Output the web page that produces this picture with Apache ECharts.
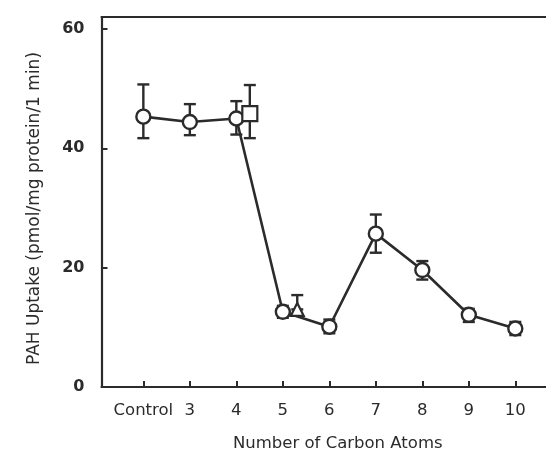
<!DOCTYPE html>
<html>
<head>
<meta charset="utf-8">
<script src="https://cdn.jsdelivr.net/npm/echarts@6/dist/echarts.min.js"></script>
<style>
  html, body { margin: 0; padding: 0; background: #fff; }
  #chart { width: 546px; height: 453px; }
</style>
</head>
<body>
<div id="chart"></div>
<script>
// Category labels along the carbon-chain axis
const categories = ['Control', '3', '4', '5', '6', '7', '8', '9', '10'];
const yTicks = [0, 20, 40, 60];

// Main series: mean uptake with lower / upper error limits
const uptake = [45.3, 44.4, 45.0, 12.6, 10.1, 25.7, 19.6, 12.1, 9.8];
const uptakeLow = [41.7, 42.2, 42.3, 11.6, 9.0, 22.5, 18.0, 10.9, 8.7];
const uptakeHigh = [50.7, 47.4, 47.9, 13.6, 11.3, 28.9, 21.1, 13.1, 10.9];

// Extra single measurements drawn beside carbon 4 (square) and carbon 5 (triangle)
const squarePos = 2.29, squareVal = 45.8, squareLow = 41.7, squareHigh = 50.6;
const trianglePos = 3.31, triangleVal = 13.0, triangleLow = 13.0, triangleHigh = 15.4;

const ink = '#2b2b2b';
const font = 'DejaVu Sans, Verdana, sans-serif';

const lineData = uptake.map((v, i) => [i, v]);
const errData = uptake.map((v, i) => [i, uptakeLow[i], uptakeHigh[i]])
  .concat([[squarePos, squareLow, squareHigh], [trianglePos, triangleLow, triangleHigh]]);

function renderErr(params, api) {
  const x = api.value(0);
  const lo = api.coord([x, api.value(1)]);
  const hi = api.coord([x, api.value(2)]);
  const half = 6;
  const style = { stroke: ink, lineWidth: 2.4, fill: null };
  return {
    type: 'group',
    children: [
      { type: 'line', shape: { x1: lo[0], y1: lo[1], x2: hi[0], y2: hi[1] }, style },
      { type: 'line', shape: { x1: lo[0] - half, y1: lo[1], x2: lo[0] + half, y2: lo[1] }, style },
      { type: 'line', shape: { x1: hi[0] - half, y1: hi[1], x2: hi[0] + half, y2: hi[1] }, style }
    ]
  };
}

const xMin = -0.9, xMax = 8.66;

const chart = echarts.init(document.getElementById('chart'));
chart.setOption({
  animation: false,
  backgroundColor: '#fff',
  grid: { left: 101.5, right: 0, top: 17, bottom: 66, outerBoundsMode: 'none', containLabel: false },
  xAxis: [
    {
      type: 'value',
      min: xMin,
      max: xMax,
      splitLine: { show: false },
      axisLine: { show: true, onZero: false, lineStyle: { color: ink, width: 2.2 } },
      axisTick: { show: true, inside: true, length: 6, customValues: categories.map((c, i) => i), lineStyle: { color: ink, width: 2 } },
      axisLabel: {
        customValues: categories.map((c, i) => i),
        formatter: v => categories[Math.round(v)],
        color: ink, fontFamily: font, fontSize: 16.5, margin: 15
      },
      name: 'Number of Carbon Atoms',
      nameLocation: 'middle',
      nameGap: 48,
      nameTextStyle: { color: ink, fontFamily: font, fontSize: 16.5, padding: [0, 0, 0, 28] }
    },
    {
      // top frame line
      type: 'value',
      position: 'top',
      min: xMin,
      max: xMax,
      splitLine: { show: false },
      axisLine: { show: true, onZero: false, lineStyle: { color: ink, width: 2.2 } },
      axisTick: { show: false },
      axisLabel: { show: false }
    }
  ],
  yAxis: {
    type: 'value',
    min: 0,
    max: 62,
    splitLine: { show: false },
    axisLine: { show: true, onZero: false, lineStyle: { color: ink, width: 2.2 } },
    axisTick: { show: true, inside: true, length: 6, customValues: yTicks, lineStyle: { color: ink, width: 2 } },
    axisLabel: {
      customValues: yTicks,
      color: ink, fontFamily: font, fontSize: 16, fontWeight: 'bold', margin: 17
    },
    name: 'PAH Uptake (pmol/mg protein/1 min)',
    nameLocation: 'middle',
    nameGap: 58,
    nameTextStyle: { color: ink, fontFamily: font, fontSize: 17, padding: [0, 13, 0, 0] }
  },
  series: [
    {
      type: 'custom',
      renderItem: renderErr,
      data: errData,
      z: 1,
      silent: true
    },
    {
      type: 'line',
      data: lineData,
      z: 2,
      symbol: 'circle',
      symbolSize: 14,
      showAllSymbol: true,
      lineStyle: { color: ink, width: 2.6 },
      itemStyle: { color: '#fff', borderColor: ink, borderWidth: 2.4 }
    },
    {
      type: 'scatter',
      data: [[squarePos, squareVal]],
      z: 3,
      symbol: 'rect',
      symbolSize: 15,
      itemStyle: { color: '#fff', borderColor: ink, borderWidth: 2.2, opacity: 1 }
    },
    {
      type: 'scatter',
      data: [[trianglePos, triangleVal]],
      z: 3,
      symbol: 'triangle',
      symbolSize: 13,
      itemStyle: { color: '#fff', borderColor: ink, borderWidth: 2.2, opacity: 1 }
    }
  ]
});
</script>
</body>
</html>
